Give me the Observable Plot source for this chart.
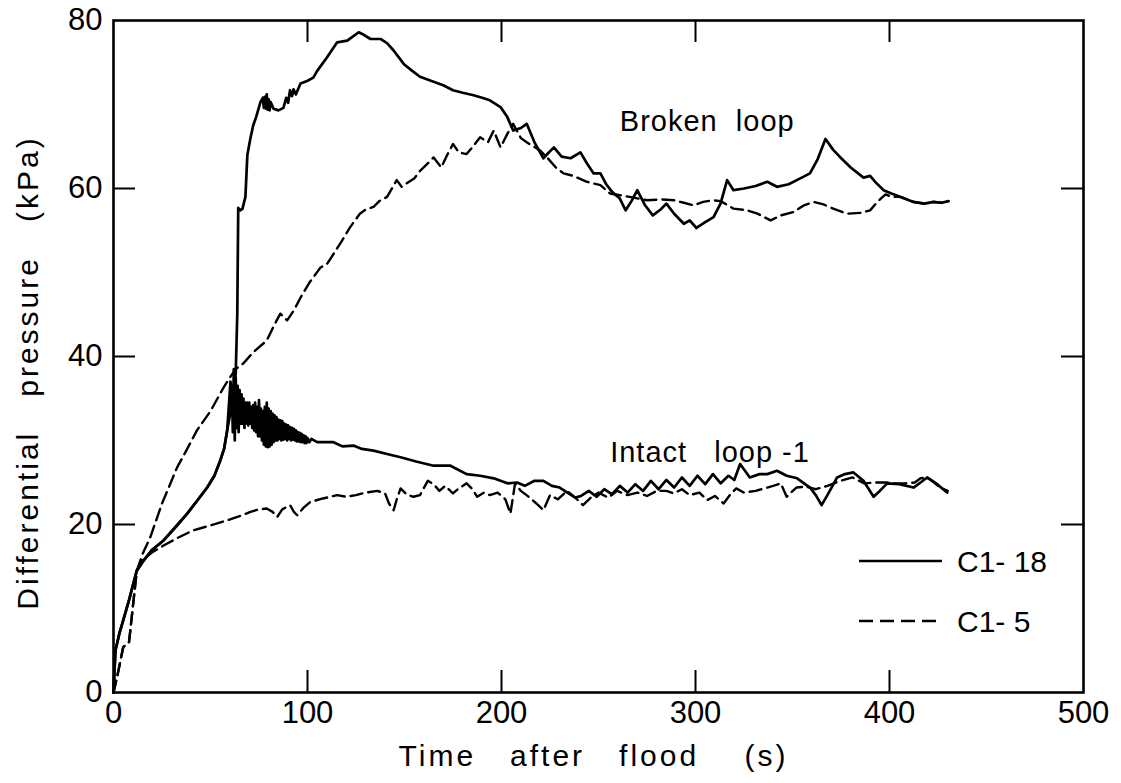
<!DOCTYPE html>
<html><head><meta charset="utf-8">
<script src="https://cdn.jsdelivr.net/npm/d3@7"></script>
<script src="https://cdn.jsdelivr.net/npm/@observablehq/plot@0.6"></script>
<style>
html,body{margin:0;padding:0;background:#fff;}
#wrap{position:relative;width:1121px;height:783px;overflow:hidden;}
#wrap svg text{white-space:pre;}
#legend{position:absolute;left:0;top:0;pointer-events:none;}
</style></head><body><div id="wrap"></div>
<script>
// Time after flood (s), differential pressure (kPa)
const brokenC118 = [[0,0],[1,5],[3,7],[5,8.6],[8,11],[12,14.5],[15.5,15.7],[20,17],[25.8,18.1],[32,19.7],[38,21.3],[43,22.8],[48.3,24.4],[52,25.8],[55,27.6],[57,29],[58.6,31.2],[60.3,37],[61.5,35],[63,38],[63.8,45],[64.3,57.7],[65.5,57.4],[66.5,57.6],[68,59],[69,64],[70.6,66],[72,67.5],[73.5,68.5],[75.8,70.3],[77,70.8],[77.5,69.6],[78,70.9],[78.5,69.5],[79,71.2],[79.5,69.4],[80,70.6],[80.5,69.3],[81,70.3],[82.5,69.5],[85,69.3],[87.6,69.6],[89,70.8],[90,70.2],[91,71.7],[92,71],[92.8,71.8],[94,71.2],[96.4,72.5],[99.8,72.8],[103,73.2],[105,74],[110,75.6],[115.3,77.4],[120.5,77.6],[126.4,78.6],[129,78.3],[132.5,77.8],[137.6,77.8],[141,77.3],[144.5,76.4],[149.7,74.8],[154,74],[158,73.3],[165,72.7],[170,72.3],[175,71.7],[180,71.4],[185.6,71.1],[190,70.8],[194,70.5],[199.5,69.7],[203,68.5],[206,66.9],[210,67.2],[213,67.7],[217,65.5],[221.6,63.6],[224,64.2],[227,64.9],[231,63.8],[235.6,63.6],[240.7,64.3],[244,63],[247.5,61.8],[251,61.8],[254,60.5],[257,59.6],[261,58.8],[264,57.4],[267,58.5],[270,59.8],[274,58],[278,56.8],[282,57.5],[285,58.2],[289,57],[294,55.8],[297,56.2],[300.5,55.3],[305,56],[309.3,56.6],[312.9,58.2],[316.3,61],[319.6,59.8],[325,60],[331,60.3],[337,60.8],[342,60.2],[348,60.5],[354,61.2],[359,61.8],[363,63.5],[367,65.9],[371,64.6],[374.7,63.7],[380,62.5],[386.6,61.3],[390,61.5],[393,60.7],[397,59.8],[401,59.4],[405.7,59],[412.4,58.4],[418,58.2],[422.7,58.4],[427,58.3],[430.4,58.5]];

const brokenC15 = [[0,0],[2,2],[5,5.4],[8,6],[12,14.5],[15,16.5],[19,18.5],[25,22.5],[32.8,26.8],[38,29],[43,31.2],[50,33.5],[56.7,36.3],[60,37.5],[63,38.5],[67,39.2],[72,40.5],[79,41.9],[83,43.8],[86,45.1],[89.5,44.3],[93,45.5],[96.4,47],[101,48.8],[106.7,50.6],[110,51],[113.4,52.2],[117,53.5],[122,55.4],[127,57],[130,57.5],[134,57.8],[137,58.5],[141,59],[146,61],[148.5,60.2],[151,60.6],[155,61.2],[158,62.1],[162,63],[165,63.7],[169,62.5],[172,64],[175,65.3],[178,64.3],[182,64.1],[186,65.2],[189,66.1],[193,65.5],[196,66.9],[199.5,64.9],[203,66.5],[206,67.7],[210,66],[213,65.5],[216.5,65],[220,64.5],[223.5,63.7],[228,62.5],[232,61.8],[237,61.5],[244,60.8],[251,60.4],[256,59.4],[261,59.2],[266,59],[275,58.6],[282,58.7],[289,58.6],[294,58.3],[299,58],[304,58.4],[309,58.6],[313,58.5],[319.6,57.6],[326.6,57.4],[332,57],[338.7,56.2],[344,56.8],[350.5,57.2],[356,58],[361,58.4],[366,58.1],[371,57.6],[378,57],[385,57.1],[390,57.4],[393,58.2],[395.5,58.8],[398,59.3],[401,59],[405.7,59],[412.4,58.4],[418,58.2],[422.7,58.4],[427,58.3],[430.4,58.5]];

const intactC118 = [[0,0],[1,5],[3,7],[5,8.6],[8,11],[12,14.5],[15.5,15.7],[20,17],[25.8,18.1],[32,19.7],[38,21.3],[43,22.8],[48.3,24.4],[52,25.8],[55,27.6],[57,29],[58.6,31.2],[60,33],[60.5,35],[61,36.5],[61.5,31],[62,38.5],[62.5,30],[63,37.5],[63.5,31.5],[64,36.5],[64.5,31],[65,36],[65.5,32],[66,35.5],[66.5,32],[67,35],[67.5,31.5],[68,34.5],[68.5,32],[69,34.5],[69.5,31.8],[70,34.5],[70.5,32],[71,34],[71.5,31.5],[72,34.2],[72.5,31.2],[73,34.5],[73.5,31],[74,34],[74.5,30.5],[75,34.8],[75.5,30.5],[76,33.8],[76.5,30],[77,33.5],[77.5,29.5],[78,34],[78.5,29.3],[79,34.5],[79.5,29.2],[80,33.8],[80.5,29.3],[81,33.5],[81.5,29.5],[82,33.2],[82.5,29.8],[83,33],[83.5,30],[84,32.8],[84.5,30],[85,32.5],[85.5,30.2],[86,32.4],[86.5,30],[87,32.3],[87.5,30.1],[88,32],[88.5,30.2],[89,31.9],[89.5,30],[90,31.8],[90.5,30.2],[91,31.6],[91.5,30],[92,31.5],[92.5,30.1],[93,31.4],[93.5,30],[94,31.2],[94.5,29.9],[95,31],[95.5,29.9],[96,30.9],[96.5,29.8],[97,30.8],[97.5,29.8],[98,30.6],[98.5,29.7],[99,30.5],[99.5,29.7],[100,30.3],[101,29.8],[102,30.2],[105,29.8],[113.4,29.8],[118,29.3],[123.7,29.4],[128,29],[134,28.8],[141,28.4],[148,28],[156,27.5],[165,27],[173.7,27],[182,26],[189,25.8],[196,25.5],[203,24.9],[208,25],[212,24.6],[217,25.2],[221.6,25.2],[226,24.6],[230,24.4],[234,23.8],[238,23.2],[241,23.4],[245,24],[249,23.3],[253,24.2],[257,23.6],[261,24.6],[265,23.8],[269,24.8],[273,24],[277,25.2],[281,24.2],[285,25.3],[289,24.4],[293,25.6],[297,24.6],[301,25.8],[305,24.8],[309,26],[313,24.9],[317,25.8],[320,25.3],[323,27.2],[328,25.6],[333,26],[337,26],[342,26.4],[347,25.8],[352.4,25.5],[359,24.4],[362,23.5],[365,22.3],[368,23.5],[373,25.6],[377,26],[381.4,26.2],[386.6,25.2],[391.8,23.3],[395,24],[398.8,24.9],[405,24.8],[412.4,24.4],[416,25],[419.4,25.6],[424,24.9],[429.7,23.8]];

const intactC15 = [[0,0],[2,2],[5,5.4],[8,6],[12,14.5],[15,15.8],[20,16.7],[25.8,17.5],[33,18.4],[41,19.3],[50,19.9],[58.6,20.5],[65,21],[70.6,21.5],[75,21.8],[79,21.9],[82,21.5],[84.4,20.9],[87,21.8],[91,22.3],[93,21.5],[94.7,21.1],[98,22],[101.5,22.7],[108,23.1],[115.3,23.5],[120,23.3],[125,23.5],[130,23.8],[136,24],[140,23.7],[142,22.5],[144.4,21.7],[146,23],[148,24.3],[151,23.6],[154.6,23.3],[158,23.5],[162,25.2],[165,24.8],[168,24],[171,24.6],[175,23.7],[178,24.3],[182,24.9],[185,24.2],[187.5,23.3],[191,23.8],[194,23.5],[198,23.8],[202,23],[204.6,21.3],[207,24.9],[210,24],[214,23.3],[218,22.5],[221.6,21.7],[225,23.5],[229,23],[233.8,24],[238,23.2],[242,22.3],[246,23.2],[250,23.8],[255,23.2],[259.6,24],[265,23.5],[270,23.8],[275,23.4],[280,24],[285,24],[288.7,23.7],[293,24.2],[297,23.5],[302,23.8],[306,22.9],[310,23.4],[314.5,22.5],[318,23.6],[321,24.3],[325,23.8],[331,24],[337,24.4],[340,24.6],[344,24.9],[347,23.3],[352,24.4],[357,24.5],[362,24.2],[368,24.6],[374.7,25.2],[381,25.6],[387,24.9],[393,25],[398.8,25],[403,24.9],[408,24.9],[413,25],[416,25.5],[419.4,25.6],[423,25],[426,24.4],[430,24]];

const xTickValues = [0, 100, 200, 300, 400, 500];
const yTickValues = [0, 20, 40, 60, 80];
const xInnerTicks = [100, 200, 300, 400];
const yInnerTicks = [20, 40, 60];

const annotationLabels = ["Broken  loop", "Intact   loop -1"];
const annotationTime = [261, 256];
const annotationValue = [67.9, 28.6];

const legendNames = ["C1- 18", "C1- 5"];
const xTitle = "Time   after   flood    (s)";
const yTitle = "Differential   pressure   (kPa)";

const W = 1121, H = 783, mL = 113, mR = 38, mT = 20, mB = 91;
const fw = W - mL - mR, fh = H - mT - mB, tickLen = 22;
const font = "'Liberation Sans', Arial, sans-serif";
const X = d => d[0], Y = d => d[1];

const chart = Plot.plot({
  width: W, height: H,
  marginLeft: mL, marginRight: mR, marginTop: mT, marginBottom: mB,
  style: {fontFamily: font, background: "white", color: "black"},
  x: {domain: [0, 500]},
  y: {domain: [0, 80]},
  marks: [
    Plot.ruleX(xInnerTicks, {strokeWidth: 2, insetTop: fh - tickLen}),
    Plot.ruleX(xInnerTicks, {strokeWidth: 2, insetBottom: fh - tickLen}),
    Plot.ruleY(yInnerTicks, {strokeWidth: 2, insetRight: fw - tickLen}),
    Plot.ruleY(yInnerTicks, {strokeWidth: 2, insetLeft: fw - tickLen}),
    Plot.frame({strokeWidth: 2.6}),
    Plot.axisX(xTickValues, {tickSize: 0, tickPadding: 8, fontSize: 31, label: null}),
    Plot.axisY(yTickValues, {tickSize: 0, tickPadding: 11, fontSize: 31, label: null}),
    Plot.line(brokenC15, {x: X, y: Y, strokeWidth: 2.4, strokeDasharray: "12,6"}),
    Plot.line(intactC15, {x: X, y: Y, strokeWidth: 2.4, strokeDasharray: "12,6"}),
    Plot.line(brokenC118, {x: X, y: Y, strokeWidth: 2.7}),
    Plot.line(intactC118, {x: X, y: Y, strokeWidth: 2.7}),
    Plot.text(annotationLabels, {x: (d, i) => annotationTime[i], y: (d, i) => annotationValue[i], text: d => d, textAnchor: "start", fontSize: 29}),
    Plot.text([xTitle], {frameAnchor: "bottom", textAnchor: "middle", lineAnchor: "middle", dy: 64, dx: -5, text: d => d, fontSize: 30}),
    Plot.text([yTitle], {frameAnchor: "left", textAnchor: "middle", lineAnchor: "middle", rotate: -90, dx: -85, dy: 16, text: d => d, fontSize: 30})
  ]
});

const wrap = document.getElementById("wrap");
wrap.appendChild(chart);
d3.select(chart).selectAll("text").each(function () {
  const s = this.textContent;
  if (s === xTitle || s === yTitle) d3.select(this).style("letter-spacing", "3px");
  if (annotationLabels.includes(s)) d3.select(this).style("letter-spacing", "1px");
});

// Legend
const leg = d3.select(wrap).append("svg").attr("id", "legend").attr("width", W).attr("height", H);
const legendRows = [{dash: null, yy: 561}, {dash: "14,7", yy: 621}];
legendNames.forEach((name, i) => {
  const r = legendRows[i];
  leg.append("line").attr("x1", 859).attr("x2", 942).attr("y1", r.yy).attr("y2", r.yy)
    .attr("stroke", "black").attr("stroke-width", 2.7).attr("stroke-dasharray", r.dash);
  leg.append("text").attr("x", 957).attr("y", r.yy).attr("dy", "0.35em")
    .attr("font-family", font).attr("font-size", 30).attr("fill", "black")
    .style("white-space", "pre").text(name);
});
</script>
</body></html>
